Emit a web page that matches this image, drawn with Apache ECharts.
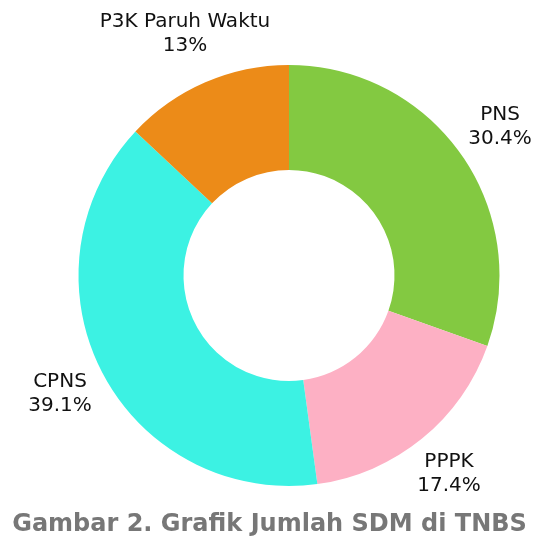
<!DOCTYPE html>
<html>
<head>
<meta charset="utf-8">
<script src="https://cdn.jsdelivr.net/npm/echarts@6/dist/echarts.min.js"></script>
<style>html,body{margin:0;padding:0;background:#fff;}#c{width:539px;height:539px;}</style>
</head>
<body>
<div id="c"></div>
<script>
const categories = ['PNS', 'PPPK', 'CPNS', 'P3K Paruh Waktu'];
const values = [30.4, 17.4, 39.1, 13];
const valueLabels = ['30.4%', '17.4%', '39.1%', '13%'];
const colors = ['#83c941', '#fdb0c4', '#3cf2e3', '#ec8b18'];
const titleText = 'Gambar 2. Grafik Jumlah SDM di TNBS';
const labelPos = [[500, 127], [449, 474], [60, 394], [185, 34]];

const chart = echarts.init(document.getElementById('c'), null, {renderer: 'canvas'});
chart.setOption({
  animation: false,
  title: {
    text: titleText,
    left: 'center',
    top: 508,
    textStyle: {fontFamily: 'DejaVu Sans', fontWeight: 'bold', fontSize: 24, color: '#777777'}
  },
  series: [{
    type: 'pie',
    center: [289, 275.5],
    radius: [105.5, 210.5],
    startAngle: 90,
    clockwise: true,
    data: categories.map((c, i) => ({name: c, value: values[i], itemStyle: {color: colors[i]}})),
    label: {
      show: true,
      position: 'outside',
      formatter: p => p.name + '\n' + valueLabels[p.dataIndex],
      fontFamily: 'DejaVu Sans',
      fontSize: 20,
      lineHeight: 24,
      color: '#111',
      align: 'center',
      overflow: 'none',
      width: 300
    },
    labelLine: {show: false},
    labelLayout: p => ({x: labelPos[p.dataIndex][0], y: labelPos[p.dataIndex][1], align: 'center', verticalAlign: 'middle'}),
    emphasis: {disabled: true}
  }]
});
</script>
</body>
</html>
